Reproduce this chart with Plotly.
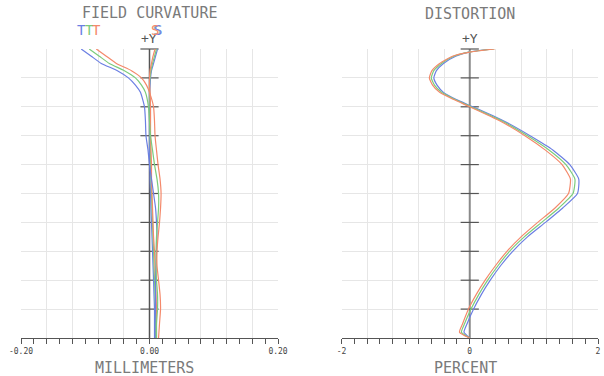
import plotly.graph_objects as go

# ---- Field curvature (normalized field height vs focus shift, mm) ----
fc_field = [1.0, 0.975, 0.95, 0.925, 0.9, 0.875, 0.85, 0.8, 0.75, 0.7, 0.65, 0.6,
            0.55, 0.5, 0.45, 0.4, 0.35, 0.3, 0.25, 0.2, 0.15, 0.1, 0.05, 0.0]

tan_blue = [-0.1063, -0.0906, -0.0750, -0.0500, -0.0328, -0.0219, -0.0141, -0.0078,
            -0.0063, -0.0055, -0.0023, 0.0000, 0.0031, 0.0063, 0.0094, 0.0109, 0.0117,
            0.0109, 0.0102, 0.0094, 0.0094, 0.0094, 0.0086, 0.0086]
tan_green = [-0.0938, -0.0781, -0.0625, -0.0391, -0.0219, -0.0125, -0.0063, -0.0016,
             0.0000, 0.0016, 0.0047, 0.0078, 0.0117, 0.0141, 0.0141, 0.0125, 0.0109,
             0.0102, 0.0102, 0.0109, 0.0125, 0.0125, 0.0109, 0.0109]
tan_orange = [-0.0828, -0.0672, -0.0516, -0.0281, -0.0125, -0.0047, 0.0000, 0.0063,
              0.0078, 0.0086, 0.0109, 0.0133, 0.0164, 0.0180, 0.0172, 0.0156, 0.0133,
              0.0117, 0.0117, 0.0141, 0.0164, 0.0172, 0.0156, 0.0141]

sag_blue = [0.0125, 0.0094, 0.0063, 0.0031, 0.0016, 0.0008, 0.0, 0.0, 0.0, 0.0, 0.0,
            0.0008, 0.0008, 0.0016, 0.0023, 0.0031, 0.0039, 0.0047, 0.0055, 0.0063,
            0.0070, 0.0078, 0.0078, 0.0078]
sag_green = [0.0109, 0.0078, 0.0047, 0.0023, 0.0008, 0.0, 0.0, 0.0008, 0.0008, 0.0008,
             0.0016, 0.0016, 0.0023, 0.0031, 0.0039, 0.0047, 0.0055, 0.0063, 0.0070,
             0.0078, 0.0086, 0.0094, 0.0094, 0.0094]
sag_orange = [0.0086, 0.0055, 0.0031, 0.0008, 0.0, 0.0, 0.0008, 0.0016, 0.0016, 0.0016,
              0.0023, 0.0031, 0.0031, 0.0039, 0.0047, 0.0055, 0.0063, 0.0078, 0.0086,
              0.0094, 0.0102, 0.0109, 0.0109, 0.0109]

# ---- Distortion (normalized field height vs percent) ----
dist_field = [1.0, 0.99, 0.975, 0.95, 0.925, 0.9, 0.875, 0.85, 0.825, 0.8, 0.75, 0.7,
              0.65, 0.6, 0.55, 0.5, 0.45, 0.4, 0.35, 0.3, 0.25, 0.2, 0.15, 0.1, 0.05,
              0.02, 0.0]
dist_blue = [0.36, 0.00, -0.22, -0.41, -0.52, -0.56, -0.51, -0.41, -0.21, 0.05, 0.54,
             0.94, 1.30, 1.56, 1.70, 1.68, 1.45, 1.18, 0.90, 0.67, 0.48, 0.32, 0.18,
             0.06, -0.04, -0.09, 0.0]
dist_green = [0.38, 0.01, -0.25, -0.44, -0.56, -0.60, -0.55, -0.44, -0.23, 0.02, 0.51,
              0.90, 1.24, 1.50, 1.64, 1.61, 1.39, 1.12, 0.85, 0.62, 0.44, 0.28, 0.14,
              0.02, -0.08, -0.13, 0.0]
dist_orange = [0.39, 0.02, -0.27, -0.47, -0.59, -0.63, -0.58, -0.47, -0.25, 0.00, 0.48,
               0.86, 1.18, 1.44, 1.57, 1.54, 1.33, 1.06, 0.80, 0.58, 0.40, 0.24, 0.10,
               -0.02, -0.11, -0.16, 0.0]

fc_ticks = [-0.2, -0.16, -0.12, -0.08, -0.04, 0.0, 0.04, 0.08, 0.12, 0.16, 0.2]
fc_ticktext = ["-0.20", "", "", "", "", "0.00", "", "", "", "", "0.20"]
dist_ticks = [-2.0, -1.6, -1.2, -0.8, -0.4, 0.0, 0.4, 0.8, 1.2, 1.6, 2.0]
dist_ticktext = ["-2", "", "", "", "", "0", "", "", "", "", "2"]
axis_marks = [0.1, 0.2, 0.3, 0.4, 0.5, 0.6, 0.7, 0.8, 0.9, 1.0]

BLUE = "#6b7fe3"
GREEN = "#7ccc7c"
ORANGE = "#f4896b"
GRID = "#e6e6e6"
MONO = "DejaVu Sans Mono"

W, H = 604, 376


def px(v):
    return v / W


def py(v):
    return 1 - v / H


fig = go.Figure()

# central vertical axes with cross ticks
for xa, ya, col, wid in (("x", "y", "#555555", 1.5), ("x2", "y2", "#8a8a8a", 2)):
    fig.add_trace(go.Scatter(x=[0, 0], y=[0, 1], mode="lines", xaxis=xa, yaxis=ya,
                             line=dict(color=col, width=wid), hoverinfo="skip",
                             showlegend=False, cliponaxis=False))
    fig.add_trace(go.Scatter(x=[0] * len(axis_marks), y=axis_marks, mode="markers",
                             xaxis=xa, yaxis=ya, hoverinfo="skip", showlegend=False,
                             cliponaxis=False,
                             marker=dict(symbol="line-ew", size=13,
                                         line=dict(color="#555555", width=1.2))))

for vals, col in ((sag_blue, BLUE), (sag_green, GREEN), (sag_orange, ORANGE),
                  (tan_blue, BLUE), (tan_green, GREEN), (tan_orange, ORANGE)):
    fig.add_trace(go.Scatter(x=vals, y=fc_field, xaxis="x", yaxis="y", mode="lines",
                             showlegend=False, cliponaxis=False, line_shape="spline",
                             line=dict(color=col, width=1.2, smoothing=0.5)))

for vals, col in ((dist_blue, BLUE), (dist_green, GREEN), (dist_orange, ORANGE)):
    fig.add_trace(go.Scatter(x=vals, y=dist_field, xaxis="x2", yaxis="y2", mode="lines",
                             showlegend=False, cliponaxis=False, line_shape="spline",
                             line=dict(color=col, width=1.2, smoothing=0.5)))

x_common = dict(showgrid=True, gridcolor=GRID, gridwidth=1, zeroline=False,
                showline=True, linecolor="#555555", linewidth=1,
                ticks="outside", ticklen=5, tickcolor="#555555", tickwidth=1,
                tickfont=dict(family=MONO, size=8, color="#444444"),
                tickmode="array", automargin=False)
y_common = dict(range=[0, 1], dtick=0.1, tick0=0, showgrid=True, gridcolor=GRID,
                gridwidth=1, zeroline=False, showline=False, showticklabels=False,
                ticks="", automargin=False)

fig.update_layout(
    width=W, height=H,
    margin=dict(l=0, r=0, t=0, b=0, pad=0, autoexpand=False),
    paper_bgcolor="white", plot_bgcolor="white", showlegend=False,
    xaxis=dict(domain=[px(21), px(278)], range=[-0.2, 0.2], tickvals=fc_ticks,
               ticktext=fc_ticktext, anchor="y",
               minor=dict(dtick=0.02, tick0=-0.2, ticks="outside", ticklen=5,
                          tickcolor="#555555", showgrid=False),
               **x_common),
    yaxis=dict(domain=[1 - 338 / H, 1 - 49 / H], anchor="x", **y_common),
    xaxis2=dict(domain=[px(341.5), px(598)], range=[-2, 2], tickvals=dist_ticks,
                ticktext=dist_ticktext, anchor="y2",
                minor=dict(dtick=0.2, tick0=-2, ticks="outside", ticklen=5,
                           tickcolor="#555555", showgrid=False),
                **x_common),
    yaxis2=dict(domain=[1 - 338 / H, 1 - 49 / H], anchor="x2", **y_common),
)

title_font = dict(family=MONO, size=15, color="#7a7a7a")
for text, xc, yc in (("FIELD CURVATURE", 149.5, 13), ("DISTORTION", 470, 14),
                     ("MILLIMETERS", 144, 368), ("PERCENT", 465, 368)):
    fig.add_annotation(xref="paper", yref="paper", x=px(xc), y=py(yc), text=text,
                       showarrow=False, xanchor="center", yanchor="middle",
                       font=title_font)

for xc in (149, 470):
    fig.add_annotation(xref="paper", yref="paper", x=px(xc), y=py(38), text="+Y",
                       showarrow=False, xanchor="center", yanchor="middle",
                       font=dict(family=MONO, size=13, color="#555555"))

# curve-end labels: T for tangential, S for sagittal
for vals, col, txt in ((tan_blue, BLUE, "T"), (tan_green, GREEN, "T"),
                       (tan_orange, ORANGE, "T"), (sag_green, GREEN, "S"),
                       (sag_blue, BLUE, "S"), (sag_orange, ORANGE, "S")):
    fig.add_annotation(xref="x", yref="paper", x=vals[0], y=py(30), text=txt,
                       showarrow=False, xanchor="center", yanchor="middle",
                       font=dict(family=MONO, size=14, color=col))

fig.write_html("out.html")
